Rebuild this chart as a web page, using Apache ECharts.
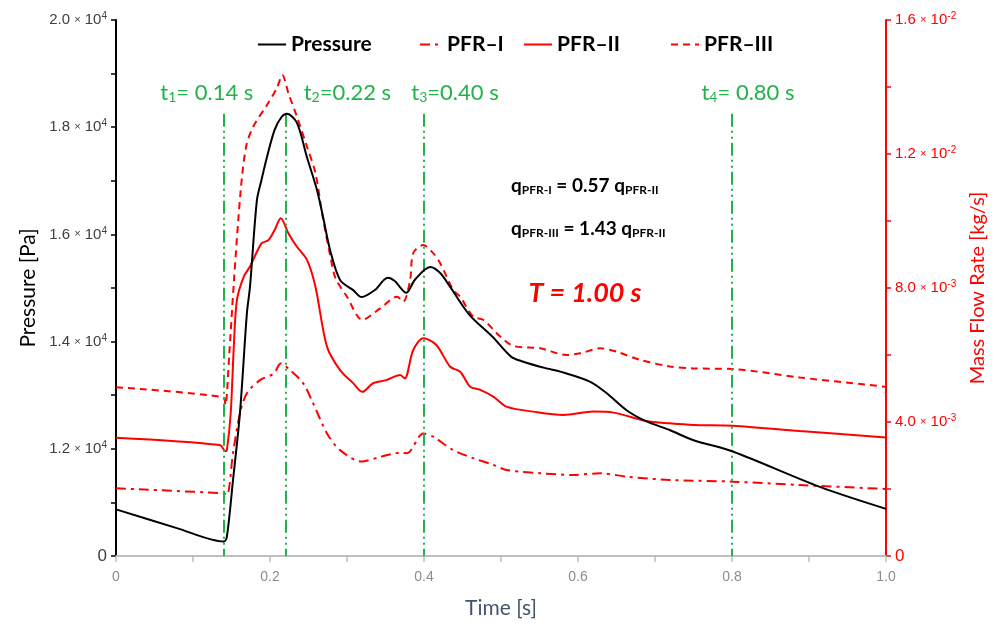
<!DOCTYPE html>
<html>
<head>
<meta charset="utf-8">
<script src="https://cdn.jsdelivr.net/npm/echarts@6/dist/echarts.min.js"></script>
<style>
  html, body { margin: 0; padding: 0; background: #fff; }
  #chart { width: 997px; height: 624px; }
</style>
</head>
<body>
<div id="chart"></div>
<script>
// Pressure [Pa] over one cycle
const pressureTime = [0, 0.079, 0.14, 0.144, 0.152, 0.161, 0.170, 0.174, 0.183, 0.189, 0.196, 0.206, 0.215, 0.222, 0.235, 0.248, 0.261, 0.269, 0.278, 0.291, 0.308, 0.319, 0.336, 0.353, 0.362, 0.377, 0.388, 0.408, 0.421, 0.434, 0.459, 0.489, 0.513, 0.528, 0.559, 0.577, 0.616, 0.637, 0.663, 0.689, 0.719, 0.750, 0.801, 0.914, 1.0];
const pressure = [10870, 10520, 10270, 10360, 11420, 12670, 14530, 15020, 16640, 17020, 17440, 17950, 18190, 18250, 18080, 17440, 16830, 16320, 15710, 15150, 14960, 14830, 14960, 15190, 15130, 14910, 15150, 15390, 15280, 15020, 14500, 14090, 13720, 13630, 13500, 13440, 13250, 13040, 12720, 12510, 12350, 12160, 11950, 11290, 10880];

// Mass flow rate [kg/s], PFR-I
const pfr1Time = [0, 0.139, 0.144, 0.152, 0.161, 0.170, 0.187, 0.205, 0.214, 0.226, 0.243, 0.256, 0.274, 0.291, 0.319, 0.343, 0.369, 0.378, 0.399, 0.412, 0.438, 0.464, 0.490, 0.507, 0.551, 0.594, 0.629, 0.663, 0.719, 0.801, 0.888, 1.0];
const pfr1 = [0.00202, 0.00187, 0.00182, 0.00307, 0.00426, 0.00486, 0.00525, 0.00545, 0.00575, 0.00555, 0.00516, 0.00456, 0.00366, 0.00316, 0.00282, 0.00296, 0.00308, 0.00307, 0.00366, 0.00356, 0.00316, 0.00292, 0.00272, 0.00257, 0.00247, 0.00242, 0.00247, 0.00237, 0.00227, 0.00222, 0.00212, 0.00200];

// Mass flow rate [kg/s], PFR-II
const pfr2Time = [0, 0.135, 0.142, 0.144, 0.149, 0.153, 0.157, 0.166, 0.174, 0.189, 0.198, 0.206, 0.214, 0.224, 0.235, 0.248, 0.259, 0.274, 0.291, 0.308, 0.320, 0.334, 0.351, 0.369, 0.375, 0.386, 0.399, 0.416, 0.434, 0.447, 0.460, 0.473, 0.490, 0.507, 0.542, 0.581, 0.620, 0.646, 0.689, 0.719, 0.750, 0.801, 0.888, 1.0];
const pfr2 = [0.00353, 0.00331, 0.00313, 0.00316, 0.00427, 0.00625, 0.00764, 0.00834, 0.00864, 0.00933, 0.00943, 0.00973, 0.01008, 0.00963, 0.00923, 0.00884, 0.00804, 0.00625, 0.00555, 0.00516, 0.00490, 0.00516, 0.00525, 0.00540, 0.00530, 0.00615, 0.00650, 0.00630, 0.00565, 0.00550, 0.00505, 0.00496, 0.00476, 0.00446, 0.00431, 0.00421, 0.00431, 0.00428, 0.00403, 0.00396, 0.00391, 0.00389, 0.00373, 0.00354];

// Mass flow rate [kg/s], PFR-III
const pfr3Time = [0, 0.139, 0.142, 0.147, 0.153, 0.162, 0.169, 0.178, 0.196, 0.209, 0.216, 0.224, 0.235, 0.248, 0.259, 0.268, 0.278, 0.285, 0.300, 0.320, 0.343, 0.365, 0.373, 0.382, 0.386, 0.399, 0.412, 0.421, 0.438, 0.447, 0.464, 0.477, 0.499, 0.516, 0.551, 0.585, 0.603, 0.629, 0.650, 0.681, 0.719, 0.750, 0.801, 0.888, 1.0];
const pfr3 = [0.00504, 0.00474, 0.00451, 0.00600, 0.00815, 0.01093, 0.01222, 0.01281, 0.01346, 0.01397, 0.01436, 0.01381, 0.01311, 0.01222, 0.01143, 0.01018, 0.00899, 0.00830, 0.00774, 0.00705, 0.00739, 0.00774, 0.00759, 0.00824, 0.00904, 0.00928, 0.00904, 0.00874, 0.00794, 0.00774, 0.00714, 0.00705, 0.00655, 0.00627, 0.00620, 0.00600, 0.00605, 0.00620, 0.00610, 0.00585, 0.00566, 0.00560, 0.00558, 0.00533, 0.00505];

// Marked instants
const markTimes = [0.14, 0.22, 0.40, 0.80];
const markSubs = ['1', '2', '3', '4'];
const markTexts = ['= 0.14 s', '=0.22 s', '=0.40 s', '= 0.80 s'];

// Tick ranges
const timeTicks = [0, 0.2, 0.4, 0.6, 0.8, 1.0];
const pressureRange = [10000, 20000];
const flowRange = [0, 0.016];

const GREEN = '#21b24b';
const RED = '#ff0000';
const FONT = 'Lato, "Open Sans", sans-serif';
const ARIAL = 'Arial, "Liberation Sans", sans-serif';

function pairs(xs, ys) { return xs.map((x, i) => [x, ys[i]]); }

function sciLabel(v) {
  const e = Math.floor(Math.log10(v) + 1e-9);
  const m = (v / Math.pow(10, e)).toFixed(1);
  return '{m|' + m + ' }{x|×}{m| 10}{s|' + (e < 0 ? '-' + (-e) : e) + '}';
}

const chart = echarts.init(document.getElementById('chart'), null, { renderer: 'canvas' });

const labelRich = (color) => ({
  m: { fontFamily: ARIAL, fontSize: 15, color: color },
  x: { fontFamily: ARIAL, fontSize: 11, color: color },
  s: { fontFamily: ARIAL, fontSize: 10, color: color, verticalAlign: 'top', padding: [0, 0, 7, 0] },
  z: { fontFamily: ARIAL, fontSize: 17, color: color }
});

const legendBase = {
  top: 29,
  itemHeight: 14,
  textStyle: { fontFamily: FONT, fontSize: 21, fontWeight: 'bold', color: '#000' },
  itemStyle: { opacity: 0, color: 'rgba(0,0,0,0)', borderWidth: 0 },
  selectedMode: false
};

chart.setOption({
  animation: false,
  backgroundColor: '#fff',
  grid: { left: 116, right: 111, top: 20, bottom: 68, containLabel: false },
  legend: [
    Object.assign({}, legendBase, { left: 252, itemWidth: 28, data: ['Pressure'] }),
    Object.assign({}, legendBase, { left: 414, itemWidth: 22, data: ['PFR\u2013I'] }),
    Object.assign({}, legendBase, { left: 518, itemWidth: 28, data: ['PFR\u2013II'] }),
    Object.assign({}, legendBase, { left: 665, itemWidth: 28, data: ['PFR\u2013III'] })
  ],
  xAxis: {
    type: 'value',
    min: timeTicks[0],
    max: timeTicks[timeTicks.length - 1],
    interval: 0.1,
    name: 'Time [s]',
    nameLocation: 'middle',
    nameGap: 42,
    nameTextStyle: { fontFamily: FONT, fontSize: 21, color: '#44546a' },
    axisLine: { lineStyle: { color: '#bfbfbf', width: 2 } },
    axisTick: { show: true, length: 6, lineStyle: { color: '#bfbfbf', width: 1.5 } },
    splitLine: { show: false },
    axisLabel: {
      margin: 14,
      fontFamily: '"Liberation Sans Narrow", Arial, sans-serif',
      fontSize: 14,
      color: '#8c8c8c',
      formatter: (v) => {
        const k = Math.round(v * 10);
        if (k % 2) return '';
        return k === 0 ? '0' : (k / 10).toFixed(1);
      }
    }
  },
  yAxis: [
    {
      type: 'value',
      min: pressureRange[0],
      max: pressureRange[1],
      interval: 1000,
      name: 'Pressure [Pa]',
      nameLocation: 'middle',
      nameGap: 76,
      nameRotate: 90,
      nameTextStyle: { fontFamily: FONT, fontSize: 21, color: '#000' },
      axisLine: { show: true, lineStyle: { color: '#000', width: 2 } },
      axisTick: { show: true, length: 5, lineStyle: { color: '#000', width: 1.5 } },
      splitLine: { show: false },
      axisLabel: {
        margin: 9,
        rich: labelRich('#404040'),
        formatter: (v) => {
          const k = Math.round(v / 1000);
          if (k % 2) return '';
          if (v === pressureRange[0]) return '{z|0}';
          return sciLabel(v);
        }
      }
    },
    {
      type: 'value',
      position: 'right',
      min: flowRange[0],
      max: flowRange[1],
      interval: 0.002,
      name: 'Mass Flow Rate [kg/s]',
      nameLocation: 'middle',
      nameGap: 82,
      nameRotate: 90,
      nameTextStyle: { fontFamily: FONT, fontSize: 20, color: RED },
      axisLine: { show: true, lineStyle: { color: RED, width: 2 } },
      axisTick: { show: true, length: 5, lineStyle: { color: RED, width: 1.5 } },
      splitLine: { show: false },
      axisLabel: {
        margin: 9,
        rich: labelRich(RED),
        formatter: (v) => {
          const k = Math.round(v / 0.002);
          if (k % 2) return '';
          if (k === 0) return '{z|0}';
          return sciLabel(v);
        }
      }
    }
  ],
  series: [
    {
      name: 'Pressure',
      type: 'line',
      yAxisIndex: 0,
      data: pairs(pressureTime, pressure),
      symbol: 'none',
      smooth: 0.3,
      z: 5,
      lineStyle: { color: '#000', width: 2 },
      itemStyle: { color: '#000' },
      markLine: {
        silent: true,
        symbol: ['none', 'none'],
        label: { show: false },
        lineStyle: { color: GREEN, width: 2, type: [13, 4, 2, 4, 2, 4] },
        data: markTimes.map((t) => [{ coord: [t, 18250] }, { coord: [t, pressureRange[0]] }])
      }
    },
    {
      name: 'PFR\u2013I',
      type: 'line',
      yAxisIndex: 1,
      data: pairs(pfr1Time, pfr1),
      symbol: 'none',
      smooth: 0.3,
      lineStyle: { color: RED, width: 2, type: [10, 5, 3, 5] },
      itemStyle: { color: RED }
    },
    {
      name: 'PFR\u2013II',
      type: 'line',
      yAxisIndex: 1,
      data: pairs(pfr2Time, pfr2),
      symbol: 'none',
      smooth: 0.3,
      lineStyle: { color: RED, width: 2 },
      itemStyle: { color: RED }
    },
    {
      name: 'PFR\u2013III',
      type: 'line',
      yAxisIndex: 1,
      data: pairs(pfr3Time, pfr3),
      symbol: 'none',
      smooth: 0.3,
      lineStyle: { color: RED, width: 2, type: [7, 5] },
      itemStyle: { color: RED }
    }
  ]
});

// Annotations: instant labels placed relative to the marked times, plus the ratio notes
const labelShift = [-17, 62, 31, 16];
const graphics = markTimes.map((t, i) => {
  const p = chart.convertToPixel({ xAxisIndex: 0, yAxisIndex: 0 }, [t, 18640]);
  return {
    type: 'text',
    x: p[0] + labelShift[i],
    y: p[1],
    style: {
      text: '{t|t}{s|' + markSubs[i] + '}{t|' + markTexts[i] + '}',
      align: 'center',
      verticalAlign: 'middle',
      rich: {
        t: { fontFamily: FONT, fontSize: 22, fill: GREEN },
        s: { fontFamily: FONT, fontSize: 14, fill: GREEN, verticalAlign: 'bottom', padding: [9, 0, 0, 0] }
      }
    }
  };
});

const noteRich = {
  q: { fontFamily: FONT, fontSize: 19, fontWeight: 'bold', fill: '#000' },
  s: { fontFamily: FONT, fontSize: 12, fontWeight: 'bold', fill: '#000', padding: [8, 0, 0, 0] }
};
graphics.push(
  { type: 'text', x: 511, y: 186, style: { text: '{q|q}{s|PFR-I}{q| = 0.57 q}{s|PFR-II}', verticalAlign: 'middle', rich: noteRich } },
  { type: 'text', x: 511, y: 229, style: { text: '{q|q}{s|PFR-III}{q| = 1.43 q}{s|PFR-II}', verticalAlign: 'middle', rich: noteRich } },
  { type: 'text', x: 585, y: 293, style: { text: 'T = 1.00 s', align: 'center', verticalAlign: 'middle', fontFamily: FONT, fontSize: 27, fontWeight: 'bold', fontStyle: 'italic', fill: RED } }
);

chart.setOption({ graphic: graphics });
</script>
</body>
</html>
